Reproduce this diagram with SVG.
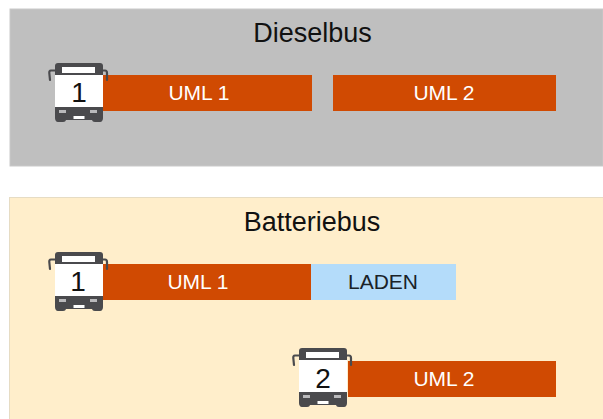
<svg xmlns="http://www.w3.org/2000/svg" width="603" height="419" viewBox="0 0 603 419">
<style>
text{font-family:"Liberation Sans",Arial,sans-serif;text-anchor:middle}
.title{font-size:27px;fill:#111}
.bar{fill:#d04a02}
.w{font-size:21px;fill:#fff}
.k{font-size:21px;fill:#1a2228}
.num{font-size:28px;fill:#111}
.dark{fill:#4a4a4d}
.mirror{fill:none;stroke:#4a4a4d;stroke-width:2.200;stroke-linecap:round;stroke-linejoin:round}
</style>
<defs>
<g id="bus">
<path class="mirror" d="M8 7.500H3C1.500 7.500 1.200 8.500 1.300 10L2 17"/>
<path class="mirror" d="M54 7.500H57C58.500 7.500 59 8.500 59 10V17"/>
<path class="dark" d="M10 0H52C54 0 55 1 55 3V12H7V3C7 1 8 0 10 0Z"/>
<rect x="7" y="12" width="48" height="32" fill="#fff"/>
<path class="dark" d="M7 44H55V55C55 57 54 59 52 59H47C45 59 44.500 58 44 57H18C17.500 58 17 59 15 59H10C8 59 7 57 7 55Z"/>
<rect x="14" y="4" width="33" height="6" fill="#fff"/>
<rect x="25.500" y="53" width="11" height="3" fill="#fff"/>
<rect x="11" y="47" width="7" height="3" fill="#b9b9bb"/>
<rect x="42" y="47" width="7" height="3" fill="#b9b9bb"/>
</g>
</defs>
<rect width="603" height="419" fill="#fff"/>
<g id="dieselbus">
<rect x="10" y="9" width="593" height="157" fill="#bfbfbf" stroke="#c9c9c9" stroke-width="1"/>
<text class="title" x="312.500" y="42">Dieselbus</text>
</g>
<g id="batteriebus">
<rect x="9.500" y="197.500" width="594" height="222" fill="#ffeecb" stroke="#e6dcc4" stroke-width="1"/>
<text class="title" x="312" y="231">Batteriebus</text>
</g>
<g id="d-uml1">
<rect class="bar" x="103" y="75" width="209" height="36"/>
<text class="w" x="199" y="100">UML 1</text>
</g>
<g id="d-uml2">
<rect class="bar" x="333" y="75" width="223" height="36"/>
<text class="w" x="444" y="100">UML 2</text>
</g>
<g id="b-uml1">
<rect class="bar" x="103" y="264" width="208" height="36"/>
<text class="w" x="198" y="289">UML 1</text>
</g>
<g id="b-laden">
<rect x="311" y="264" width="145" height="36" fill="#b4dcfa"/>
<text class="k" x="383" y="289">LADEN</text>
</g>
<g id="b-uml2">
<rect class="bar" x="348" y="361" width="208" height="36"/>
<text class="w" x="444" y="386">UML 2</text>
</g>
<g id="bus-d1">
<use href="#bus" x="48" y="63"/>
<text class="num" x="79" y="102">1</text>
</g>
<g id="bus-b1">
<use href="#bus" x="48" y="252"/>
<text class="num" x="78" y="291">1</text>
</g>
<g id="bus-b2">
<use href="#bus" x="292" y="348"/>
<text class="num" x="323" y="388">2</text>
</g>
<g id="connectors"/>
</svg>
